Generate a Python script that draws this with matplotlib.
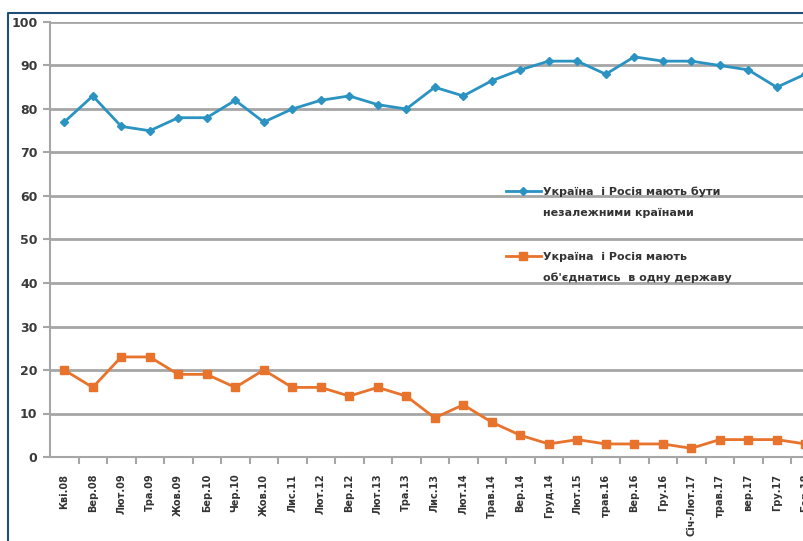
import numpy as np
import matplotlib
matplotlib.use('Agg')
import matplotlib.pyplot as plt
from matplotlib.lines import Line2D

plt.rcParams['font.family'] = ['DejaVu Sans']

# --- дані ---
periods = ['Кві.08', 'Вер.08', 'Лют.09', 'Тра.09', 'Жов.09', 'Бер.10', 'Чер.10',
           'Жов.10', 'Лис.11', 'Лют.12', 'Вер.12', 'Лют.13', 'Тра.13', 'Лис.13',
           'Лют.14', 'Трав.14', 'Вер.14', 'Груд.14', 'Лют.15', 'трав.16', 'Вер.16',
           'Гру.16', 'Січ-Лют.17', 'трав.17', 'вер.17', 'Гру.17', 'Бер.18']
independent = [77, 83, 76, 75, 78, 78, 82, 77, 80, 82, 83, 81, 80, 85, 83, 86.5,
               89, 91, 91, 88, 92, 91, 91, 90, 89, 85, 88]
unite = [20, 16, 23, 23, 19, 19, 16, 20, 16, 16, 14, 16, 14, 9, 12, 8,
         5, 3, 4, 3, 3, 3, 2, 4, 4, 4, 3]
label_indep = ['Україна  і Росія мають бути', 'незалежними країнами']
label_unite = ['Україна  і Росія мають', "об'єднатись  в одну державу"]
y_ticks = [0, 10, 20, 30, 40, 50, 60, 70, 80, 90, 100]

BLUE = '#2b93c2'
ORANGE = '#e8732c'
GRID = '#a6a6a6'

W, H = 804, 541
fig = plt.figure(figsize=(W / 100, H / 100), dpi=100)
step = 28.5
x0, y0, y1 = 50, 457, 22
ax = fig.add_axes([x0 / W, (H - y0) / H, len(periods) * step / W, (y0 - y1) / H])

x = np.arange(len(periods))
ax.plot(x, independent, color=BLUE, lw=2, marker='D', ms=4, clip_on=False, zorder=3)
ax.plot(x, unite, color=ORANGE, lw=2, marker='s', ms=5.5, clip_on=False, zorder=3)

ax.set_xlim(-0.5, len(periods) - 0.5)
ax.set_ylim(0, 100)
ax.set_yticks(y_ticks)
ax.set_yticklabels([str(v) for v in y_ticks], fontsize=9, fontweight='bold', color='#3a3a3a')
ax.grid(axis='y', color=GRID, lw=2)
ax.set_axisbelow(True)
ax.set_xticks(x)
ax.set_xticklabels(periods, rotation=90, fontsize=7, fontweight='bold', color='#333333')
ax.set_xticks(x[:-1] + 0.5, minor=True)
ax.tick_params(axis='x', which='major', length=0, pad=12)
ax.tick_params(axis='x', which='minor', length=5, color=GRID, width=1.5)
ax.tick_params(axis='y', length=5, color=GRID, width=1.5, pad=4)
for s in ['top', 'right']:
    ax.spines[s].set_visible(False)
for s in ['left', 'bottom']:
    ax.spines[s].set_color(GRID)
    ax.spines[s].set_linewidth(1.5)

# легенда: два блоки, маркер на першому рядку
def make_legend(color, marker, ms, lines, top_px):
    h = [Line2D([], [], color=color, lw=2, marker=marker, ms=ms),
         Line2D([], [], color='none')]
    leg = fig.legend(h, lines, loc='upper left',
                     bbox_to_anchor=(500 / W, (H - top_px) / H),
                     frameon=False, prop={'size': 8, 'weight': 'bold'},
                     handlelength=3.2, handletextpad=0.2, labelspacing=0.95,
                     borderpad=0, labelcolor='#333333')
    return leg

make_legend(BLUE, 'D', 4, label_indep, 181)
make_legend(ORANGE, 's', 5.5, label_unite, 246)

# рамка
fig.add_artist(Line2D([8 / W, 8 / W, 1], [0, (H - 13) / H, (H - 13) / H],
                      color='#1f4e79', lw=1.5))

fig.savefig('out.png', dpi=100)
